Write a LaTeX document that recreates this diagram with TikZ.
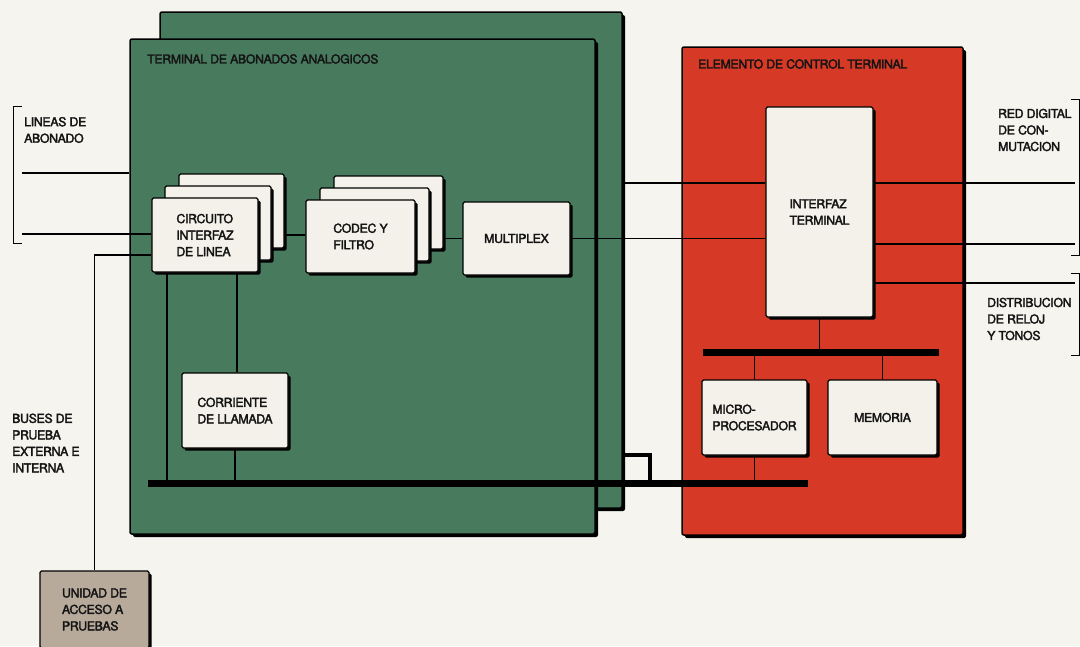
\documentclass[tikz,border=0pt]{standalone}
\usepackage{fontspec}
\setmainfont{TeX Gyre Heros}[FakeBold=2.5, LetterSpace=-2.5]
\usetikzlibrary{shadows,calc}
\pgfdeclarelayer{panels}
\pgfdeclarelayer{wires}
\pgfsetlayers{panels,wires,main}
\definecolor{paper}{RGB}{246,244,238}
\definecolor{panelgreen}{RGB}{72,122,94}
\definecolor{panelred}{RGB}{214,58,38}
\definecolor{boxfill}{RGB}{243,241,233}
\definecolor{tan}{RGB}{184,170,155}
\definecolor{ink}{RGB}{20,20,20}
\begin{document}
\begin{tikzpicture}[x=1pt,y=-1pt,
  font=\fontsize{12.3}{16.5}\selectfont,
  panel/.style={draw=black, line width=1.5pt, rounded corners=2pt, inner sep=0pt,
    drop shadow={shadow xshift=3pt, shadow yshift=-3pt, fill=black, opacity=1}},
  blockbox/.style={draw=black, line width=1.3pt, fill=boxfill, rounded corners=1.5pt,
    inner sep=0pt, align=left, text=ink,
    drop shadow={shadow xshift=2.5pt, shadow yshift=-2.5pt, fill=black, opacity=1}},
  wire/.style={draw=black, line width=1.2pt},
  busline/.style={draw=black, line width=7pt, line cap=butt},
  lbl/.style={anchor=west, align=left, inner sep=0pt, text=ink},
  brk/.style={draw=black, line width=1pt}]
\useasboundingbox (0,0) rectangle (1080,646);

% panels
\begin{pgfonlayer}{panels}
\fill[paper] (0,0) rectangle (1080,646);
\node[panel, fill=panelgreen, minimum width=462pt, minimum height=496pt] (back) at (391,260) {};
\node[panel, fill=panelgreen, minimum width=465pt, minimum height=495pt] (front) at (362.5,286.5) {};
\node[panel, fill=panelred, minimum width=281pt, minimum height=488pt] (red) at (822.5,291) {};
\end{pgfonlayer}

% titles
\node[lbl] (ttitle) at (147,59) {TERMINAL DE ABONADOS ANALOGICOS};
\node[lbl] (etitle) at (698,64) {ELEMENTO DE CONTROL TERMINAL};

% blocks
\node[blockbox, minimum width=105pt, minimum height=74pt] (circ3) at (231.5,211) {};
\node[blockbox, minimum width=106pt, minimum height=74pt] (circ2) at (218,223) {};
\node[blockbox, minimum width=106pt, minimum height=74pt] (circ) at (205,235) {CIRCUITO\\INTERFAZ\\DE LINEA};
\node[blockbox, minimum width=109pt, minimum height=73pt] (codec3) at (388.5,212.5) {};
\node[blockbox, minimum width=109pt, minimum height=73pt] (codec2) at (374.5,224.5) {};
\node[blockbox, minimum width=109pt, minimum height=73pt] (codec) at (360.5,236.5) {CODEC Y\\FILTRO};
\node[blockbox, minimum width=107pt, minimum height=73pt] (mux) at (516.5,238.5) {MULTIPLEX};
\node[blockbox, minimum width=106pt, minimum height=75pt] (corr) at (235,410.5) {CORRIENTE\\DE LLAMADA};
\node[blockbox, minimum width=107pt, minimum height=210pt] (iface) at (819.5,212) {INTERFAZ\\TERMINAL};
\node[blockbox, minimum width=105pt, minimum height=75pt] (micro) at (754.5,417.5) {MICRO-\\PROCESADOR};
\node[blockbox, minimum width=109pt, minimum height=75pt] (mem) at (882.5,417.5) {MEMORIA};
\node[blockbox, fill=tan, minimum width=109pt, minimum height=77pt] (ua) at (94.5,609.5) {UNIDAD DE\\ACCESO A\\PRUEBAS};

% free labels
\node[lbl] (lineas) at (24,130) {LINEAS DE\\ABONADO};
\node[lbl] (buses) at (12,443) {BUSES DE\\PRUEBA\\EXTERNA E\\INTERNA};
\node[lbl] (rdc) at (998,130) {RED DIGITAL\\DE CON-\\MUTACION};
\node[lbl] (drt) at (987,319) {DISTRIBUCION\\DE RELOJ\\Y TONOS};

% coordinates
\coordinate (la1) at (22,173);
\coordinate (la2) at (22,234);
\coordinate (r1) at (1075,183);
\coordinate (r2) at (1075,244);
\coordinate (r3) at (1075,283);
\coordinate (gb1) at (148,483);
\coordinate (gb2) at (808,483);
\coordinate (rb1) at (703,352);
\coordinate (rb2) at (939,352);
\coordinate (lp) at (650,483);
\coordinate (tp) at ($(circ.west)+(0,20)$);
\coordinate (c1) at ($(circ.south)+(-38,0)$);
\coordinate (c2) at ($(circ.south)+(32,0)$);

\begin{pgfonlayer}{wires}
\draw[wire] (la1) -- (la1 -| front.west);
\draw[wire] (la2) -- (la2 -| circ.west);
\draw[wire] (ua.north) |- (tp);
\draw[wire] (circ.east) -- (circ.east -| codec.west);
\draw[wire] (mux.west -| codec.east) -- (mux.west);
\draw[wire] (mux.east) -- (mux.east -| iface.west);
\draw[wire] (back.east |- r1) -- (iface.west |- r1);
\draw[wire] (iface.east |- r1) -- (r1);
\draw[wire] (iface.east |- r2) -- (r2);
\draw[wire] (iface.east |- r3) -- (r3);
\draw[wire] (iface.south) -- (iface.south |- rb1);
\draw[wire] (micro.north) -- (micro.north |- rb1);
\draw[wire] (mem.north) -- (mem.north |- rb1);
\draw[wire] (micro.south) -- (micro.south |- gb1);
\draw[wire] (c1) -- (c1 |- gb1);
\draw[wire] (c2) -- (c2 |- corr.north);
\draw[wire] (corr.south) -- (corr.south |- gb1);
\draw[busline] (gb1) -- (gb2);
\draw[busline] (rb1) -- (rb2);
\draw[draw=black, line width=4.5pt] (back.east |- 0,455) -| (lp);
\end{pgfonlayer}

% brackets
\draw[brk] (22,106) -- (13,106) -- (13,243) -- (22,243);
\draw[brk] (1071,99) -- (1079,99) -- (1079,255) -- (1071,255);
\draw[brk] (1071,273) -- (1079,273) -- (1079,355) -- (1071,355);
\end{tikzpicture}
\end{document}
